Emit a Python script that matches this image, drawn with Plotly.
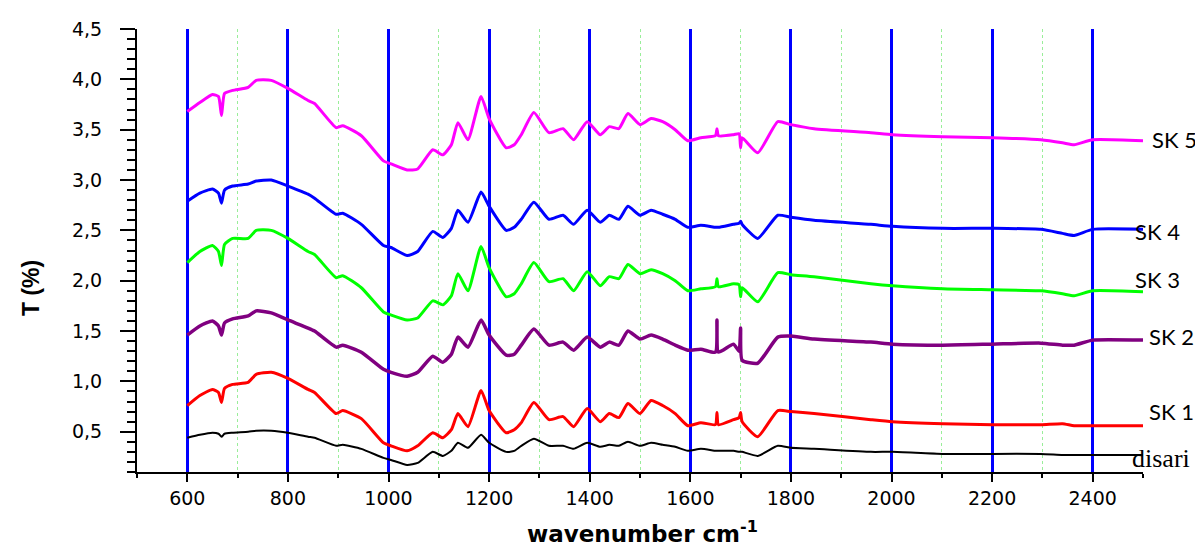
import plotly.graph_objects as go

# wavenumber grid (cm-1)
wn = [600, 625, 650, 662, 668, 674, 690, 721, 737, 767, 800, 840, 853, 896, 909, 946,
      990, 1005, 1037, 1058, 1088, 1108, 1125, 1138, 1158, 1184, 1200, 1234, 1250, 1264,
      1289, 1319, 1347, 1368, 1395, 1421, 1439, 1458, 1476, 1500, 1522, 1545, 1570, 1595,
      1621, 1650, 1653, 1656, 1686, 1697, 1700, 1703, 1734, 1774, 1800, 1846, 1959, 2002,
      2102, 2201, 2297, 2340, 2363, 2400, 2500]

sk5 = [3.68, 3.77, 3.85, 3.83, 3.64, 3.86, 3.89, 3.92, 3.99, 3.99, 3.91, 3.79, 3.76, 3.52, 3.54, 3.44,
       3.19, 3.16, 3.10, 3.11, 3.30, 3.25, 3.35, 3.57, 3.40, 3.83, 3.61, 3.32, 3.35, 3.45,
       3.67, 3.47, 3.51, 3.40, 3.58, 3.45, 3.53, 3.51, 3.66, 3.55, 3.61, 3.58, 3.50, 3.39,
       3.42, 3.44, 3.51, 3.44, 3.45, 3.46, 3.32, 3.42, 3.27, 3.58, 3.55, 3.51, 3.47, 3.45,
       3.43, 3.42, 3.40, 3.37, 3.35, 3.40, 3.39]

sk4 = [2.79, 2.87, 2.91, 2.87, 2.77, 2.90, 2.94, 2.96, 2.99, 3.00, 2.94, 2.86, 2.82, 2.66, 2.67, 2.56,
       2.35, 2.33, 2.25, 2.29, 2.49, 2.43, 2.52, 2.70, 2.58, 2.88, 2.74, 2.50, 2.53, 2.61,
       2.78, 2.61, 2.65, 2.56, 2.70, 2.58, 2.65, 2.61, 2.74, 2.65, 2.70, 2.66, 2.61, 2.53,
       2.55, 2.53, 2.53, 2.53, 2.56, 2.57, 2.59, 2.56, 2.42, 2.65, 2.63, 2.60, 2.56, 2.54,
       2.52, 2.52, 2.51, 2.47, 2.45, 2.51, 2.51]

sk3 = [2.18, 2.29, 2.35, 2.29, 2.15, 2.36, 2.42, 2.42, 2.50, 2.50, 2.42, 2.29, 2.26, 2.03, 2.05, 1.93,
       1.69, 1.66, 1.61, 1.63, 1.80, 1.76, 1.85, 2.07, 1.90, 2.34, 2.13, 1.84, 1.87, 1.97,
       2.18, 1.99, 2.02, 1.90, 2.09, 1.95, 2.04, 2.02, 2.16, 2.07, 2.11, 2.07, 2.00, 1.90,
       1.92, 1.94, 2.02, 1.94, 1.97, 1.96, 1.84, 1.93, 1.79, 2.08, 2.06, 2.04, 1.97, 1.95,
       1.92, 1.91, 1.90, 1.87, 1.85, 1.90, 1.89]

sk2 = [1.46, 1.55, 1.60, 1.55, 1.46, 1.58, 1.62, 1.65, 1.70, 1.68, 1.61, 1.53, 1.50, 1.34, 1.36, 1.29,
       1.12, 1.09, 1.05, 1.09, 1.25, 1.19, 1.27, 1.44, 1.34, 1.61, 1.46, 1.26, 1.27, 1.36,
       1.52, 1.36, 1.39, 1.31, 1.44, 1.34, 1.39, 1.36, 1.50, 1.42, 1.46, 1.42, 1.36, 1.31,
       1.32, 1.29, 1.61, 1.29, 1.37, 1.30, 1.53, 1.21, 1.18, 1.44, 1.45, 1.42, 1.39, 1.37,
       1.36, 1.37, 1.38, 1.36, 1.36, 1.41, 1.41]

sk1 = [0.76, 0.86, 0.92, 0.89, 0.79, 0.93, 0.97, 0.99, 1.07, 1.09, 1.03, 0.92, 0.89, 0.68, 0.71, 0.63,
       0.39, 0.36, 0.31, 0.36, 0.49, 0.44, 0.52, 0.68, 0.55, 0.91, 0.71, 0.49, 0.52, 0.59,
       0.79, 0.62, 0.65, 0.55, 0.73, 0.60, 0.68, 0.64, 0.78, 0.68, 0.81, 0.76, 0.68, 0.56,
       0.59, 0.57, 0.69, 0.57, 0.62, 0.64, 0.69, 0.60, 0.45, 0.71, 0.70, 0.68, 0.62, 0.60,
       0.58, 0.57, 0.57, 0.58, 0.56, 0.56, 0.56]

disari = [0.44, 0.47, 0.49, 0.48, 0.45, 0.48, 0.49, 0.50, 0.51, 0.51, 0.49, 0.45, 0.44, 0.36, 0.37, 0.33,
          0.24, 0.22, 0.17, 0.19, 0.30, 0.26, 0.31, 0.39, 0.34, 0.47, 0.39, 0.30, 0.31, 0.36,
          0.43, 0.36, 0.36, 0.33, 0.39, 0.35, 0.37, 0.36, 0.40, 0.36, 0.39, 0.37, 0.35, 0.31,
          0.33, 0.31, 0.31, 0.31, 0.31, 0.30, 0.30, 0.30, 0.26, 0.36, 0.34, 0.33, 0.30, 0.30,
          0.28, 0.28, 0.28, 0.27, 0.27, 0.27, 0.27]

series_names = ["disari", "SK 1", "SK 2", "SK 3", "SK 4", "SK 5"]
series_vals = [disari, sk1, sk2, sk3, sk4, sk5]
colors = ["#000000", "#ff0000", "#800080", "#00ff00", "#0000ff", "#ff00ff"]
widths = [2, 3, 3.5, 3, 3, 3]

# label positions (paper coords, left edge / vertical middle)
label_px = [0.987, 1.004, 1.004, 0.990, 0.990, 1.007]
label_py = [0.031, 0.137, 0.306, 0.434, 0.542, 0.751]

for v in series_vals:
    assert len(v) == len(wn)

fig = go.Figure()
for name, vals, c, w in zip(series_names, series_vals, colors, widths):
    fig.add_trace(go.Scatter(x=wn, y=vals, mode="lines", name=name,
                             line=dict(color=c, width=w, shape="spline", smoothing=0.5),
                             showlegend=False))

for name, lx, ly in zip(series_names, label_px, label_py):
    if name == "disari":
        fnt = dict(family="Liberation Serif, serif", size=26, color="black")
    else:
        fnt = dict(family="Lato, sans-serif", size=22, color="black")
    fig.add_annotation(x=lx, y=ly, xref="paper", yref="paper", text=name, showarrow=False,
                       xanchor="left", yanchor="middle", font=fnt)

fig.add_annotation(x=-0.106, y=0.416, xref="paper", yref="paper", text="<b>T (%)</b>",
                   showarrow=False, textangle=-90, xanchor="center", yanchor="middle",
                   font=dict(family="Liberation Sans, Arial, sans-serif", size=23, color="black"))
fig.add_annotation(x=0.502, y=-0.136, xref="paper", yref="paper",
                   text="<b>wavenumber cm<sup>-1</sup></b>", showarrow=False,
                   xanchor="center", yanchor="middle",
                   font=dict(family="DejaVu Sans, sans-serif", size=23, color="black"))

fig.update_layout(
    width=1195, height=542,
    margin=dict(l=129, r=60, t=10, b=78),
    paper_bgcolor="white", plot_bgcolor="white",
    separators=", ",
)
fig.update_xaxes(
    range=[500, 2500], tick0=600, dtick=200, ticks="outside", ticklen=8, tickwidth=2,
    tickcolor="black", showline=True, linecolor="black", linewidth=2,
    showgrid=True, gridcolor="#0000ff", gridwidth=2.5, zeroline=False,
    tickfont=dict(family="DejaVu Sans, sans-serif", size=19, color="black"),
    ticklabelstandoff=0, ticklabeloverflow="allow",
    minor=dict(dtick=100, tick0=500, ticks="outside", ticklen=4, tickwidth=2, tickcolor="black",
               showgrid=True, gridcolor="#99ee99", gridwidth=1, griddash="dot"),
)
fig.update_yaxes(
    range=[0.1, 4.5], tick0=0.5, dtick=0.5, tickformat=".1f", ticks="outside", ticklen=15,
    tickwidth=2, tickcolor="black", showline=True, linecolor="black", linewidth=2,
    showgrid=False, zeroline=False,
    tickfont=dict(family="DejaVu Sans, sans-serif", size=19, color="black"),
    ticklabelstandoff=14, ticklabeloverflow="allow",
    minor=dict(dtick=0.1, ticks="outside", ticklen=8, tickwidth=2, tickcolor="black",
               showgrid=False),
)

fig.write_html("out.html")
